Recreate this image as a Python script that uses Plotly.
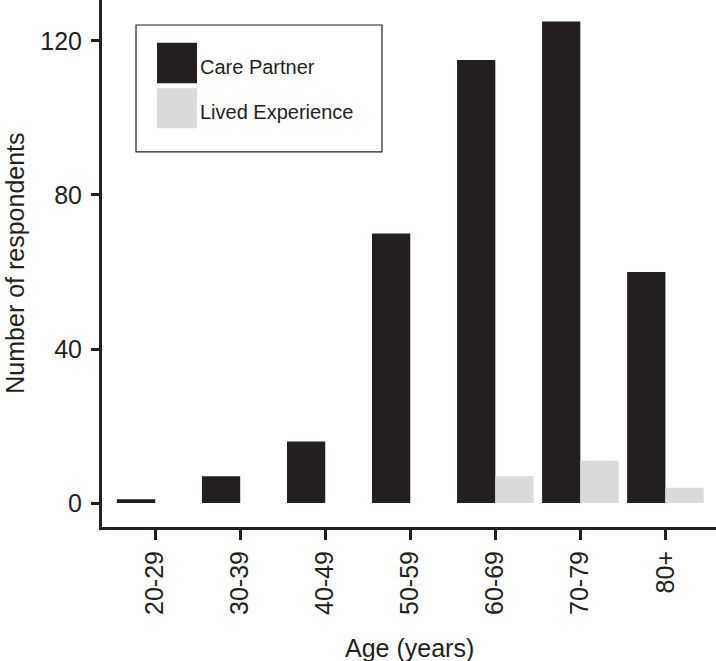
import plotly.graph_objects as go

categories = ["20-29", "30-39", "40-49", "50-59", "60-69", "70-79", "80+"]
care_partner = [1, 7, 16, 70, 115, 125, 60]
lived_experience = [0, 0, 0, 0, 7, 11, 4]
series_names = ["Care Partner", "Lived Experience"]
series_colors = ["#231f20", "#d9dadb"]
y_ticks = [0, 40, 80, 120]

FONT = "Liberation Sans, Arial, sans-serif"
INK = "#231f20"

fig = go.Figure()
for name, vals, col in zip(series_names, [care_partner, lived_experience], series_colors):
    fig.add_trace(go.Bar(x=categories, y=vals, name=name, marker=dict(color=col, line=dict(width=0)),
                         showlegend=False))

# custom legend (large square swatches)
shapes = [dict(type="rect", xref="paper", yref="paper", x0=0.0554, x1=0.456, y0=0.712, y1=0.9526,
               line=dict(color=INK, width=1.2), fillcolor="white", layer="above")]
annotations = []
sw_y = [(0.919, 0.8419), (0.8324, 0.7565)]
for (y1, y0), name, col in zip(sw_y, series_names, series_colors):
    shapes.append(dict(type="rect", xref="paper", yref="paper", x0=0.0896, x1=0.1547, y0=y0, y1=y1,
                       line=dict(width=0), fillcolor=col, layer="above"))
    annotations.append(dict(xref="paper", yref="paper", x=0.1565, y=(y0 + y1) / 2 - 0.007, text=name,
                            showarrow=False, xanchor="left", yanchor="middle",
                            font=dict(family=FONT, size=20, color=INK)))

annotations.append(dict(xref="paper", yref="paper", x=0.5, y=-0.229, text="Age (years)", showarrow=False,
                        xanchor="center", yanchor="middle", font=dict(family=FONT, size=25, color=INK)))
annotations.append(dict(xref="paper", yref="paper", x=-0.143, y=0.5, text="Number of respondents",
                        showarrow=False, textangle=-90, xanchor="center", yanchor="middle",
                        font=dict(family=FONT, size=25, color=INK)))

fig.update_layout(
    width=716, height=661,
    margin=dict(l=102, r=0, t=0, b=134),
    paper_bgcolor="white", plot_bgcolor="white",
    barmode="group", bargap=0.1, bargroupgap=0,
    shapes=shapes, annotations=annotations,
    font=dict(family=FONT, size=25, color=INK),
    xaxis=dict(type="category", range=[-0.625, 6.595], showline=True, linecolor=INK, linewidth=3,
               ticks="outside", ticklen=10, tickwidth=3, tickcolor=INK, tickangle=-90,
               showgrid=False, zeroline=False, tickfont=dict(family=FONT, size=25, color=INK),
               ticklabelstandoff=1),
    yaxis=dict(range=[-6.2, 130.6], tickvals=y_ticks, showline=True, linecolor=INK, linewidth=3,
               ticks="outside", ticklen=8, tickwidth=3, tickcolor=INK, showgrid=False, zeroline=False,
               tickfont=dict(family=FONT, size=25, color=INK), ticklabelstandoff=4),
)

fig.write_html("out.html", config={"displayModeBar": False},
               post_script="document.body.style.margin='0px';")
